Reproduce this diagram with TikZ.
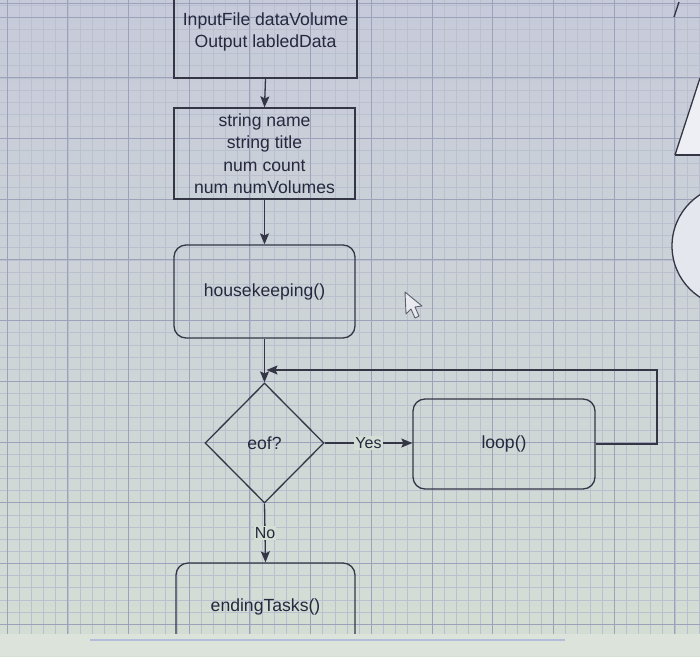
\documentclass[tikz,border=0pt]{standalone}
\usepackage{fontspec}
\setmainfont{Liberation Sans}
\usetikzlibrary{shapes.geometric,arrows.meta}
\definecolor{bgtop}{RGB}{198,202,218}
\definecolor{bgbot}{RGB}{212,222,212}
\definecolor{linec}{RGB}{52,54,70}
\definecolor{textc}{RGB}{38,40,62}
\definecolor{majorg}{RGB}{156,162,186}
\definecolor{minorg}{RGB}{186,192,206}
\tikzset{
  box/.style={draw=linec, line width=1.3pt, text=textc, align=center, inner sep=2pt,
    font=\fontsize{17.6}{22.5}\selectfont},
  rbox/.style={box, rounded corners=12pt},
  dia/.style={box, diamond},
  arr/.style={draw=linec, line width=1.3pt, -{Stealth[length=11pt,width=9pt,inset=2pt]}},
  lbl/.style={fill=bgbot, inner sep=1pt, text=textc, font=\fontsize{16}{18}\selectfont},
  majorgrid/.style={draw=majorg, line width=0.8pt},
  minorgrid/.style={draw=minorg, line width=0.35pt},
  shapeedge/.style={draw=linec, line width=1.3pt}
}
\begin{document}
\begin{tikzpicture}[x=1pt,y=-1pt]
\useasboundingbox (0,0) rectangle (700,656);
% background
\shade[top color=bgtop, bottom color=bgbot] (0,0) rectangle (700,656);
% grid
\foreach \i in {-1,...,57} { \draw[minorgrid] ({7+12.14*\i},0) -- ({7+12.14*\i},656); }
\foreach \j in {-2,...,52} { \draw[minorgrid] (0,{17+12.14*\j}) -- (700,{17+12.14*\j}); }
\foreach \i in {0,...,11} { \draw[majorgrid] ({7+60.7*\i},0) -- ({7+60.7*\i},656); }
\foreach \j in {0,...,10} { \draw[majorgrid] (0,{17+60.7*\j}) -- (700,{17+60.7*\j}); }
\draw[majorgrid] (0,3) -- (700,3);
% bottom strip
\fill[bgbot!85!white] (0,634) rectangle (700,656);
\draw[line width=2.5pt, draw=blue!15!bgbot] (90,640) -- (565,640);
% partial shapes at the right edge
\fill[white!70!bgtop] (675,155) -- (700,78) -- (700,155) -- cycle;
\draw[shapeedge] (675,155) -- (700,78);
\draw[shapeedge] (675,155) -- (700,155);
\draw[shapeedge] (674,17) -- (679,2);
\fill[white!55!bgtop] (733,246) circle (61);
\draw[shapeedge] (733,246) circle (61);
% nodes
\node[box, minimum width=183pt, minimum height=92pt] (inp) at (265.5,32)
  {InputFile dataVolume\\Output labledData};
\node[box, minimum width=181pt, minimum height=91pt] (vars) at (264.5,153.5)
  {string name\\string title\\num count\\num numVolumes};
\node[rbox, minimum width=181pt, minimum height=93pt] (hk) at (264.5,291.5) {housekeeping()};
\node[dia, minimum width=119pt, minimum height=120pt, inner sep=0pt] (eof) at (264.5,443) {eof?};
\node[rbox, minimum width=182pt, minimum height=90pt] (loop) at (504,444) {loop()};
\begin{scope}
\clip (0,0) rectangle (700,633);
\node[rbox, minimum width=179pt, minimum height=88pt] (end) at (265.5,607) {endingTasks()};
\end{scope}
\coordinate (jn) at (264.5,370);
\coordinate (rt) at (657,370);
% connectors
\draw[arr] (inp.south) -- (vars.north);
\draw[arr] (vars.south) -- (hk.north);
\draw[arr] (hk.south) -- (eof.north);
\draw[arr] (eof.east) -- node[lbl] {Yes} (loop.west |- eof.east);
\draw[arr] (loop.east) -| (rt) -- ([xshift=2pt]jn);
\draw[arr] (eof.south) -- node[lbl] {No} (end.north);
% mouse pointer
\draw[draw=linec!80, fill=white!60!bgtop, line width=0.9pt, line join=round]
  (405,292) -- (406,314) -- (411,309) -- (415,318) -- (419,316) -- (415,307) -- (422,306) -- cycle;
\end{tikzpicture}
\end{document}
